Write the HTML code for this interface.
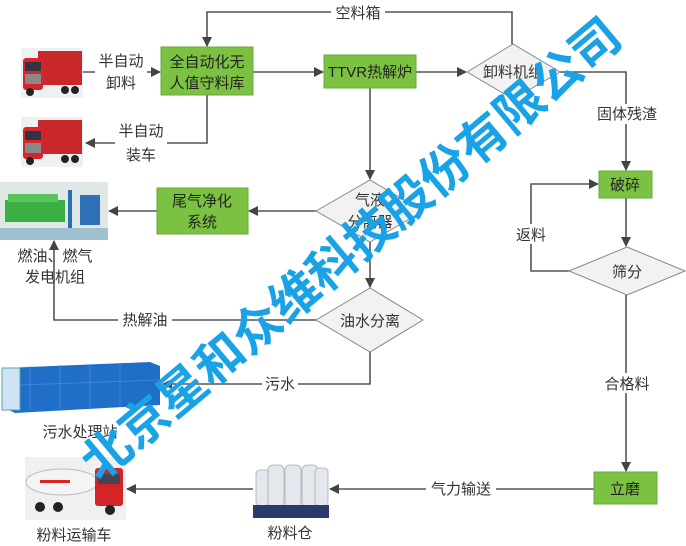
<!DOCTYPE html>
<html><head><meta charset="utf-8"><style>
html,body{margin:0;padding:0;background:#fff;width:686px;height:546px;overflow:hidden}
svg text{font-family:"Liberation Sans","Noto Sans CJK SC",sans-serif;fill:#333}
</style></head><body>
<svg width="686" height="546" viewBox="0 0 686 546" xmlns="http://www.w3.org/2000/svg">
<defs>
<marker id="a" markerWidth="10" markerHeight="10" refX="9" refY="5" orient="auto" markerUnits="userSpaceOnUse">
<path d="M0,0 L10,5 L0,10 Z" fill="#444"/></marker>
</defs>
<g stroke="#555" stroke-width="1.6" fill="none">
<!-- top loop -->
<polyline points="512,44 512,12 207,12 207,46" marker-end="url(#a)"/>
<line x1="83" y1="72" x2="160" y2="72" marker-end="url(#a)"/>
<line x1="253" y1="72" x2="323" y2="72" marker-end="url(#a)"/>
<line x1="416" y1="72" x2="466" y2="72" marker-end="url(#a)"/>
<polyline points="207,95 207,143 86,143" marker-end="url(#a)"/>
<polyline points="560,72 626,72 626,170" marker-end="url(#a)"/>
<line x1="370" y1="88" x2="370" y2="179" marker-end="url(#a)"/>
<line x1="316" y1="211" x2="249" y2="211" marker-end="url(#a)"/>
<line x1="157" y1="211" x2="109" y2="211" marker-end="url(#a)"/>
<line x1="370" y1="242" x2="370" y2="287" marker-end="url(#a)"/>
<polyline points="316,320 54,320 54,241" marker-end="url(#a)"/>
<polyline points="370,352 370,384 163,384" marker-end="url(#a)"/>
<line x1="626" y1="198" x2="626" y2="246" marker-end="url(#a)"/>
<polyline points="569,271 531,271 531,184 598,184" marker-end="url(#a)"/>
<line x1="626" y1="295" x2="626" y2="471" marker-end="url(#a)"/>
<line x1="594" y1="489" x2="330" y2="489" marker-end="url(#a)"/>
<line x1="253" y1="489" x2="127" y2="489" marker-end="url(#a)"/>
</g>
<!-- label backgrounds -->
<g fill="#fff">
<rect x="331" y="3" width="54" height="18"/>
<rect x="95" y="50" width="52" height="42"/>
<rect x="115" y="120" width="52" height="44"/>
<rect x="596" y="104" width="64" height="20"/>
<rect x="512" y="224" width="38" height="20"/>
<rect x="118" y="311" width="54" height="18"/>
<rect x="262" y="375" width="36" height="18"/>
<rect x="600" y="373" width="54" height="20"/>
<rect x="426" y="480" width="70" height="18"/>
</g>
<!-- boxes -->
<g fill="#7cc242" stroke="#6aa83a">
<rect x="161" y="47" width="92" height="48"/>
<rect x="324" y="55" width="92" height="33"/>
<rect x="157" y="188" width="91" height="46"/>
<rect x="599" y="171" width="53" height="27"/>
<rect x="594" y="472" width="63" height="32"/>
</g>
<g fill="#f2f2f2" stroke="#888" stroke-width="1">
<polygon points="467,72 513,44 560,72 513,99"/>
<polygon points="316,211 370,180 423,211 370,242"/>
<polygon points="316,320 370,288 423,320 370,352"/>
<polygon points="569,271 627,247 685,271 627,295"/>
</g>
<!-- text -->
<g font-size="15" text-anchor="middle">
<text x="358" y="18">空料箱</text>
<text x="121" y="66">半自动</text><text x="121" y="88">卸料</text>
<text x="141" y="136">半自动</text><text x="141" y="160">装车</text>
<text x="207" y="67" fill="#222" style="fill:#222">全自动化无</text>
<text x="207" y="88" style="fill:#222">人值守料库</text>
<text x="370" y="77" style="fill:#222">TTVR热解炉</text>
<text x="513" y="77">卸料机组</text>
<text x="627" y="119">固体残渣</text>
<text x="625" y="190" style="fill:#222">破碎</text>
<text x="202" y="206" style="fill:#222">尾气净化</text>
<text x="202" y="227" style="fill:#222">系统</text>
<text x="370" y="205">气液</text><text x="370" y="227">分离器</text>
<text x="55" y="261">燃油、燃气</text><text x="55" y="282">发电机组</text>
<text x="531" y="240">返料</text>
<text x="627" y="277">筛分</text>
<text x="145" y="325">热解油</text>
<text x="370" y="326">油水分离</text>
<text x="280" y="389">污水</text>
<text x="627" y="389">合格料</text>
<text x="80" y="437">污水处理站</text>
<text x="461" y="494">气力输送</text>
<text x="625" y="494" style="fill:#222">立磨</text>
<text x="290" y="538">粉料仓</text>
<text x="74" y="540">粉料运输车</text>
</g>
<!-- truck images -->
<g id="tr">
<rect x="21" y="48" width="62" height="50" fill="#eef1f3"/>
<rect x="38" y="51" width="44" height="34" fill="#c8282a"/>
<rect x="23" y="58" width="20" height="32" rx="3" fill="#d8252a"/>
<rect x="25" y="62" width="16" height="9" fill="#334"/>
<rect x="25" y="74" width="16" height="10" fill="#888"/>
<circle cx="30" cy="92" r="4" fill="#222"/><circle cx="65" cy="90" r="4" fill="#222"/><circle cx="75" cy="90" r="4" fill="#222"/>
</g>
<use href="#tr" transform="translate(0,69)"/>
<!-- generator -->
<rect x="0" y="182" width="108" height="58" fill="#dfe8e4"/>
<rect x="5" y="200" width="60" height="22" fill="#3bb042"/>
<rect x="8" y="194" width="50" height="8" fill="#58c45a"/>
<rect x="68" y="190" width="4" height="40" fill="#2a6fb0"/>
<rect x="80" y="195" width="20" height="30" fill="#3070b8"/>
<rect x="0" y="228" width="108" height="12" fill="#9fc0d0"/>
<!-- wastewater -->
<rect x="0" y="357" width="160" height="56" fill="#fff"/>
<polygon points="5,368 150,362 160,366 160,405 15,413 5,408" fill="#1f6fc8"/>
<rect x="2" y="368" width="18" height="42" fill="#cfe3f2" stroke="#5aa" stroke-width="1"/>
<g stroke="#4a8ad8" stroke-width="0.8"><line x1="30" y1="366" x2="30" y2="410"/><line x1="60" y1="365" x2="60" y2="409"/><line x1="90" y1="364" x2="90" y2="408"/><line x1="120" y1="363" x2="120" y2="407"/><line x1="20" y1="385" x2="158" y2="380"/></g>
<!-- silos -->
<rect x="253" y="460" width="76" height="58" fill="#fff"/>
<g fill="#e4e8ec" stroke="#aab" stroke-width="0.8">
<rect x="256" y="470" width="14" height="36" rx="4"/><rect x="268" y="465" width="16" height="42" rx="5"/><rect x="285" y="465" width="16" height="42" rx="5"/><rect x="302" y="465" width="16" height="42" rx="5"/><rect x="315" y="468" width="13" height="38" rx="4"/>
</g>
<rect x="253" y="505" width="76" height="13" fill="#2a3a6a"/>
<!-- tanker truck -->
<rect x="25" y="457" width="101" height="63" fill="#eef0f2"/>
<ellipse cx="62" cy="482" rx="36" ry="13" fill="#f4f4f4" stroke="#bbb"/>
<rect x="40" y="480" width="30" height="3" fill="#d22"/>
<rect x="95" y="468" width="28" height="38" rx="3" fill="#d42428"/>
<rect x="98" y="474" width="22" height="10" fill="#445"/>
<circle cx="40" cy="507" r="5" fill="#222"/><circle cx="58" cy="507" r="5" fill="#222"/><circle cx="110" cy="510" r="5" fill="#222"/>
<!-- watermark -->
<text x="362" y="262" transform="rotate(-40 362 262)" text-anchor="middle" font-size="49" font-weight="bold" style="fill:#1aa2e6;letter-spacing:0px">北京星和众维科技股份有限公司</text>
</svg>
</body></html>
